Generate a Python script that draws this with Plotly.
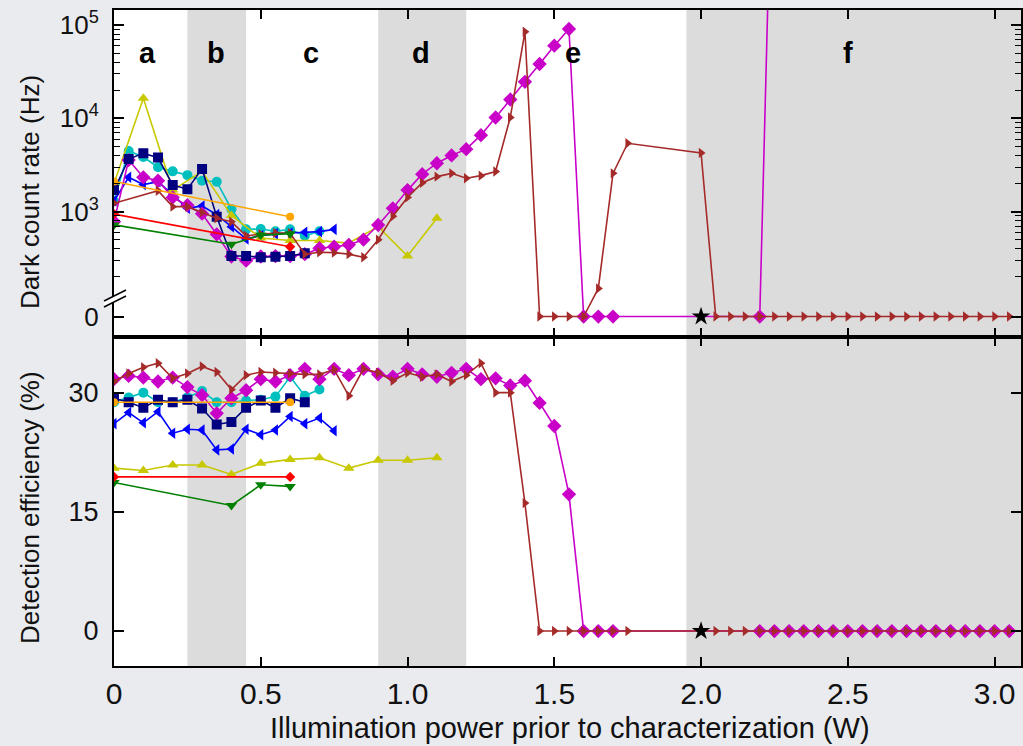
import plotly.graph_objects as go

# ---------------- data ----------------
# Top panel: dark count rate (Hz); 0 is drawn below an axis break
yellow_x = [0, 0.1, 0.2, 0.3, 0.4, 0.5, 0.6, 0.7, 0.8, 0.9, 1.0, 1.1]
yellow_dcr = [2000, 16400, 1700, 2700, 910, 520, 490, 490, 460, 690, 334, 850]
yellow_de = [20.5, 20.2, 20.9, 20.9, 19.7, 21.1, 21.6, 21.8, 20.5, 21.5, 21.5, 21.8]

cyan_x = [0, 0.05, 0.1, 0.15, 0.2, 0.25, 0.3, 0.35, 0.4, 0.45, 0.5, 0.55, 0.6, 0.65, 0.7]
cyan_dcr = [1300, 4470, 3850, 2990, 2700, 2460, 2140, 2090, 1060, 645, 650, 615, 645, 550, 615]
cyan_de = [28.8, 29.4, 30.0, 28.8, 28.8, 29.4, 30.2, 28.8, 28.8, 29.0, 29.1, 29.5, 32.0, 29.6, 30.4]

navy_x = [0, 0.05, 0.1, 0.15, 0.2, 0.25, 0.3, 0.35, 0.4, 0.45, 0.5, 0.55, 0.6, 0.65]
navy_dcr = [1700, 3660, 4220, 3790, 1930, 1740, 2870, 880, 334, 334, 324, 329, 334, 357]
navy_de = [29.3, 28.8, 28.1, 29.1, 28.8, 29.1, 28.0, 26.0, 26.3, 28.1, 29.0, 28.1, 29.3, 28.8]

blue_x = [0, 0.05, 0.1, 0.15, 0.2, 0.25, 0.3, 0.35, 0.4, 0.45, 0.5, 0.55, 0.6, 0.65, 0.7, 0.75]
blue_dcr = [1300, 2330, 1950, 2090, 1510, 1085, 1150, 930, 690, 510, 550, 577, 590, 600, 610, 645]
blue_de = [26.1, 27.5, 26.2, 27.6, 24.9, 25.4, 25.3, 22.8, 22.9, 25.4, 24.7, 25.3, 27.0, 26.1, 26.8, 25.2]

magenta_x_top = [0, 0.05, 0.1, 0.15, 0.2, 0.25, 0.3, 0.35, 0.4, 0.45,
                 0.5, 0.55, 0.6, 0.65, 0.7, 0.75, 0.8, 0.85, 0.9, 0.95,
                 1.0, 1.05, 1.1, 1.15, 1.2, 1.25, 1.3, 1.35, 1.4, 1.45,
                 1.5, 1.55, 1.6, 1.65, 1.7, 2.2, 2.25]
magenta_dcr = [780, 3570, 2330, 2140, 1420, 1170, 950, 570, 330, 298,
               330, 334, 334, 350, 405, 420, 440, 500, 718, 1085,
               1700, 2520, 3300, 4000, 4670, 6600, 10200, 15900, 24600, 38200,
               60000, 90600, 0, 0, 0, 0, 1e8]
magenta_x_bot = [0, 0.05, 0.1, 0.15, 0.2, 0.25, 0.3, 0.35, 0.4, 0.45,
                 0.5, 0.55, 0.6, 0.65, 0.7, 0.75, 0.8, 0.85, 0.9, 0.95,
                 1.0, 1.05, 1.1, 1.15, 1.2, 1.25, 1.3, 1.35, 1.4, 1.45,
                 1.5, 1.55, 1.6, 1.65, 1.7,
                 2.2, 2.25, 2.3, 2.35, 2.4, 2.45, 2.5, 2.55, 2.6, 2.65,
                 2.7, 2.75, 2.8, 2.85, 2.9, 2.95, 3.0, 3.05]
magenta_de = [31.7, 32.1, 31.9, 31.4, 31.9, 30.7, 29.7, 27.4, 29.3, 30.3,
              31.7, 31.4, 32.2, 33.0, 31.7, 33.0, 32.2, 33.0, 32.3, 32.0,
              33.0, 32.3, 32.0, 32.5, 33.0, 31.7, 31.8, 30.9, 31.5, 28.7,
              25.8, 17.2, 0, 0, 0,
              0, 0, 0, 0, 0, 0, 0, 0, 0, 0,
              0, 0, 0, 0, 0, 0, 0, 0]

brown_x_top = [0, 0.15, 0.2, 0.25, 0.3, 0.35, 0.4, 0.45, 0.5, 0.55,
               0.6, 0.65, 0.7, 0.75, 0.8, 0.85, 0.9, 0.95, 1.0, 1.05,
               1.1, 1.15, 1.2, 1.25, 1.3, 1.35, 1.4, 1.45, 1.5, 1.55,
               1.6, 1.65, 1.7, 1.75, 2.0,
               2.05, 2.1, 2.15, 2.2, 2.25, 2.3, 2.35, 2.4, 2.45, 2.5,
               2.55, 2.6, 2.65, 2.7, 2.75, 2.8, 2.85, 2.9, 2.95, 3.0, 3.05]
brown_dcr = [1230, 1675, 1130, 1130, 980, 850, 780, 550, 572, 590,
             590, 350, 366, 363, 350, 324, 500, 890, 1420, 2040,
             2370, 2570, 2280, 2430, 2690, 10200, 84800, 0, 0, 0,
             0, 150, 2570, 5400, 4260,
             0, 0, 0, 0, 0, 0, 0, 0, 0, 0,
             0, 0, 0, 0, 0, 0, 0, 0, 0, 0, 0]
brown_x_bot = [0, 0.05, 0.1, 0.15, 0.2, 0.25, 0.3, 0.35, 0.4, 0.45,
               0.5, 0.55, 0.6, 0.65, 0.7, 0.75, 0.8, 0.85, 0.9, 0.95,
               1.0, 1.05, 1.1, 1.15, 1.2, 1.25, 1.3, 1.35, 1.4, 1.45,
               1.5, 1.55, 1.6, 1.65, 1.7, 1.75, 2.0,
               2.05, 2.1, 2.15, 2.2, 2.25, 2.3, 2.35, 2.4, 2.45, 2.5,
               2.55, 2.6, 2.65, 2.7, 2.75, 2.8, 2.85, 2.9, 2.95, 3.0, 3.05]
brown_de = [31.4, 32.4, 33.2, 33.7, 31.8, 32.4, 33.3, 32.6, 30.4, 32.2,
            32.6, 32.5, 32.4, 32.3, 32.3, 32.9, 29.6, 33.0, 32.5, 31.5,
            32.5, 32.0, 32.3, 31.4, 32.2, 33.7, 30.0, 30.0, 16.1, 0,
            0, 0, 0, 0, 0, 0, 0,
            0, 0, 0, 0, 0, 0, 0, 0, 0, 0,
            0, 0, 0, 0, 0, 0, 0, 0, 0, 0, 0]

orange_x = [0, 0.6]
orange_dcr = [2100, 880]
orange_de = [28.8, 28.8]

red_x = [0, 0.6]
red_dcr = [940, 420]
red_de = [19.4, 19.4]

green_x = [0, 0.4, 0.5, 0.6]
green_dcr = [720, 447, 560, 580]
green_de = [18.7, 15.8, 18.4, 18.2]

star_x = [2.0]
star_dcr = [0]
star_de = [0]

regions = [("a", 0.0, 0.25, False), ("b", 0.25, 0.45, True), ("c", 0.45, 0.9, False),
           ("d", 0.9, 1.2, True), ("e", 1.2, 1.95, False), ("f", 1.95, 3.09, True)]
label_x = {"a": 0.114, "b": 0.346, "c": 0.67, "d": 1.045, "e": 1.563, "f": 2.5}

x_ticks = [0, 0.5, 1.0, 1.5, 2.0, 2.5, 3.0]
x_ticktext = ["0", "0.5", "1.0", "1.5", "2.0", "2.5", "3.0"]

# ---------------- geometry ----------------
W, H = 1023, 746
L, R, T, B = 114, 1021, 10, 666
SPLIT = 336.7
ZERO_POS = 75.0  # where "0 Hz" is drawn on the broken log axis
FONT = "Liberation Sans, Arial, sans-serif"


def px2paper(px, py):
    return (px - L) / (R - L), (B - py) / (B - T)


def top_y(vals):
    return [ZERO_POS if v == 0 else v for v in vals]


split_paper = (B - SPLIT) / (B - T)

fig = go.Figure()

series = [
    # name, color, symbol, size, x_top, dcr, x_bot, de
    ("cyan", "#00bfbf", "circle", 10, cyan_x, cyan_dcr, cyan_x, cyan_de),
    ("blue", "#0000ff", "triangle-left", 10, blue_x, blue_dcr, blue_x, blue_de),
    ("yellow", "#c8c800", "triangle-up", 10, yellow_x, yellow_dcr, yellow_x, yellow_de),
    ("magenta", "#c800c8", "diamond", 11, magenta_x_top, magenta_dcr, magenta_x_bot, magenta_de),
    ("navy", "#000080", "square", 10, navy_x, navy_dcr, navy_x, navy_de),
    ("brown", "#a52a2a", "triangle-right", 9, brown_x_top, brown_dcr, brown_x_bot, brown_de),
    ("green", "#008000", "triangle-down", 10, green_x, green_dcr, green_x, green_de),
    ("red", "#ff0000", "diamond", 8, red_x, red_dcr, red_x, red_de),
    ("orange", "#ffa500", "circle", 8, orange_x, orange_dcr, orange_x, orange_de),
]

for name, col, sym, sz, xt, yt, xb, yb in series:
    fig.add_trace(go.Scatter(x=xt, y=top_y(yt), xaxis="x", yaxis="y", mode="lines+markers",
                             line=dict(color=col, width=1.6),
                             marker=dict(symbol=sym, size=sz, color=col, line=dict(width=0)),
                             showlegend=False, name=name))
    fig.add_trace(go.Scatter(x=xb, y=yb, xaxis="x2", yaxis="y2", mode="lines+markers",
                             line=dict(color=col, width=1.6),
                             marker=dict(symbol=sym, size=sz, color=col, line=dict(width=0)),
                             showlegend=False, name=name))

fig.add_trace(go.Scatter(x=star_x, y=top_y(star_dcr), xaxis="x", yaxis="y", mode="markers",
                         marker=dict(symbol="star", size=14, color="black"), showlegend=False))
fig.add_trace(go.Scatter(x=star_x, y=star_de, xaxis="x2", yaxis="y2", mode="markers",
                         marker=dict(symbol="star", size=14, color="black"), showlegend=False))

shapes = []
for lab, x0, x1, shaded in regions:
    if shaded:
        shapes.append(dict(type="rect", xref="x2", yref="paper", x0=x0, x1=x1, y0=0, y1=1,
                           fillcolor="#dcdcdc", line=dict(width=0), layer="below"))

# axis break marks on top-left axis
a1 = px2paper(104, 307); a2 = px2paper(126, 296)
b1 = px2paper(104, 301); b2 = px2paper(126, 290)
shapes.append(dict(type="path", xref="paper", yref="paper",
                   path=f"M {a1[0]} {a1[1]} L {a2[0]} {a2[1]} L {b2[0]} {b2[1]} L {b1[0]} {b1[1]} Z",
                   fillcolor="#ffffff", line=dict(width=0), layer="above"))
for p, q in [(a1, a2), (b1, b2)]:
    shapes.append(dict(type="line", xref="paper", yref="paper", x0=p[0], y0=p[1], x1=q[0], y1=q[1],
                       line=dict(color="black", width=1.5), layer="above"))

annotations = []
for lab, x0, x1, shaded in regions:
    annotations.append(dict(x=label_x[lab], y=4.70, xref="x", yref="y", text=f"<b>{lab}</b>",
                            xanchor="center", yanchor="middle",
                            showarrow=False, font=dict(family=FONT, size=29, color="black")))

annotations.append(dict(x=px2paper(30, 0)[0], y=px2paper(0, 192)[1], xref="paper", yref="paper",
                        text="Dark count rate (Hz)", textangle=-90, showarrow=False,
                        xanchor="center", yanchor="middle",
                        font=dict(family=FONT, size=26, color="#111")))
annotations.append(dict(x=px2paper(30, 0)[0], y=px2paper(0, 508)[1], xref="paper", yref="paper",
                        text="Detection efficiency (%)", textangle=-90, showarrow=False,
                        xanchor="center", yanchor="middle",
                        font=dict(family=FONT, size=26, color="#111")))
annotations.append(dict(x=px2paper(570, 0)[0], y=px2paper(0, 728)[1], xref="paper", yref="paper",
                        text="Illumination power prior to characterization (W)", showarrow=False,
                        xanchor="center", yanchor="middle",
                        font=dict(family=FONT, size=29, color="#111")))

minor_top = [m * 10 ** e for e in (2, 3, 4) for m in range(2, 10)]

axis_common = dict(showline=True, linewidth=2, linecolor="black", ticks="inside",
                   tickcolor="black", tickwidth=1.5, showgrid=False, zeroline=False,
                   automargin=False)

fig.update_layout(
    width=W, height=H,
    margin=dict(l=L, r=W - R, t=T, b=H - B, autoexpand=False),
    paper_bgcolor="#e9ebef", plot_bgcolor="#ffffff",
    shapes=shapes, annotations=annotations,
    xaxis=dict(domain=[0, 1], anchor="y", range=[0, 3.09], tickvals=x_ticks, showticklabels=False,
               ticklen=9, mirror="allticks", matches="x2", **axis_common),
    xaxis2=dict(domain=[0, 1], anchor="y2", range=[0, 3.09], tickvals=x_ticks, ticktext=x_ticktext,
                ticklen=9, mirror="allticks", ticklabelstandoff=0,
                tickfont=dict(family=FONT, size=30, color="#111"), **axis_common),
    yaxis=dict(domain=[split_paper, 1], anchor="x", type="log", range=[1.659, 5.161],
               tickvals=[ZERO_POS, 1e3, 1e4, 1e5],
               ticktext=["0", "10<sup>3</sup>", "10<sup>4</sup>", "10<sup>5</sup>"],
               ticklen=10, mirror="allticks", ticklabelstandoff=8,
               minor=dict(tickvals=minor_top, ticklen=6, ticks="inside", tickcolor="black", tickwidth=1.2),
               tickfont=dict(family=FONT, size=26, color="#111"), **axis_common),
    yaxis2=dict(domain=[0, split_paper], anchor="x2", range=[-4.40, 37.04],
                tickvals=[0, 15, 30], ticktext=["0", "15", "30"],
                ticklen=10, mirror="allticks", ticklabelstandoff=8,
                tickfont=dict(family=FONT, size=27, color="#111"), **axis_common),
)

fig.write_html("out.html", config={"displayModeBar": False},
               post_script="document.body.style.margin='0px';document.body.style.overflow='hidden';"
                           "document.body.style.background='#e9ebef';")
